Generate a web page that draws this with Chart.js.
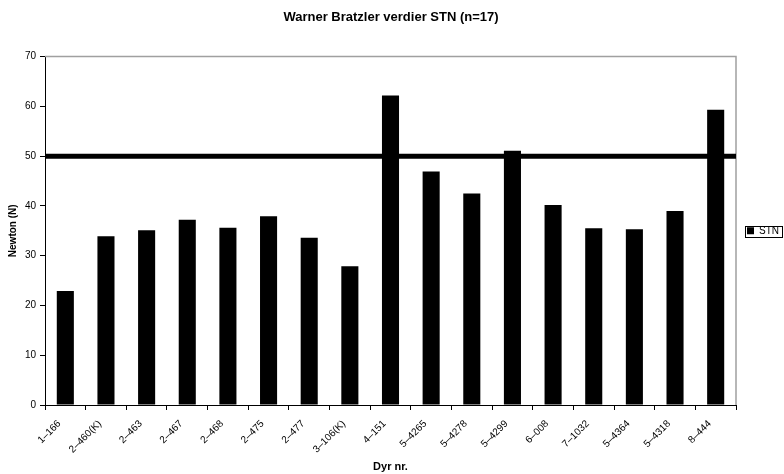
<!DOCTYPE html>
<html>
<head>
<meta charset="utf-8">
<title>Warner Bratzler verdier STN</title>
<script src="https://cdn.jsdelivr.net/npm/chart.js@4/dist/chart.umd.min.js"></script>
<style>
  html, body { margin: 0; padding: 0; background: #ffffff; }
  #wrap { width: 784px; height: 474px; }
</style>
</head>
<body>
<div id="wrap"><canvas id="c" width="784" height="474"></canvas></div>
<script>
// Animal IDs along the x axis
const animals = ['1–166', '2–460(K)', '2–463', '2–467', '2–468', '2–475', '2–477', '3–106(K)',
  '4–151', '5–4265', '5–4278', '5–4299', '6–008', '7–1032', '5–4364', '5–4318', '8–444'];
// Shear force (Newton) per animal
const stn = [22.9, 33.9, 35.1, 37.2, 35.6, 37.9, 33.6, 27.9,
  62.2, 46.9, 42.5, 51.1, 40.2, 35.5, 35.3, 39.0, 59.3];
// Reference limit drawn as a horizontal line
const limitValue = 50;
// y axis range and step
const yMin = 0, yMax = 70, yStep = 10;

const FONT = "'Liberation Sans', Arial, Helvetica, sans-serif";

// Plot-area frame (top/right in grey), the limit line and the legend frame
const decorations = {
  id: 'decorations',
  beforeDatasetsDraw(chart) {
    const { ctx, chartArea: a } = chart;
    ctx.save();
    ctx.strokeStyle = '#a0a0a0';
    ctx.lineWidth = 1.5;
    ctx.beginPath();
    ctx.moveTo(a.left, a.top);
    ctx.lineTo(a.right, a.top);
    ctx.lineTo(a.right, a.bottom);
    ctx.stroke();
    ctx.restore();
  },
  afterDatasetsDraw(chart) {
    const { ctx, chartArea: a, scales } = chart;
    const y = scales.y.getPixelForValue(limitValue);
    ctx.save();
    ctx.strokeStyle = '#000000';
    ctx.lineWidth = 5;
    ctx.beginPath();
    ctx.moveTo(a.left, y);
    ctx.lineTo(a.right, y);
    ctx.stroke();
    ctx.restore();
  },
  afterDraw(chart) {
    const lg = chart.legend;
    if (!lg || !lg.legendHitBoxes || !lg.legendHitBoxes.length) return;
    const hb = lg.legendHitBoxes[0];
    const { ctx } = chart;
    ctx.save();
    ctx.strokeStyle = '#000000';
    ctx.lineWidth = 1;
    const x0 = Math.round(hb.left - 2) + 0.5;
    const y0 = Math.round(hb.top) + 0.5;
    const w = Math.round(hb.width + 5);
    const h = Math.round(hb.height + 1);
    ctx.strokeRect(x0, y0, w, h);
    ctx.restore();
  }
};

new Chart(document.getElementById('c'), {
  type: 'bar',
  data: {
    labels: animals,
    datasets: [{
      label: 'STN',
      data: stn,
      backgroundColor: '#000000',
      borderWidth: 0,
      barPercentage: 0.42,
      categoryPercentage: 1.0
    }]
  },
  options: {
    responsive: false,
    animation: false,
    devicePixelRatio: 1,
    layout: { padding: { left: -7, top: 0, bottom: 0, right: -5 } },
    plugins: {
      title: {
        display: true,
        text: 'Warner Bratzler verdier STN (n=17)',
        color: '#000000',
        font: { family: FONT, size: 13, weight: 'bold', lineHeight: 1.2 },
        padding: { top: 10, bottom: 31 },
        align: 'center'
      },
      legend: {
        display: true,
        position: 'right',
        fullSize: false,
        labels: {
          color: '#000000',
          font: { family: FONT, size: 10 },
          boxWidth: 7,
          boxHeight: 7,
          padding: 11
        }
      },
      tooltip: { enabled: false }
    },
    scales: {
      x: {
        grid: { display: true, drawOnChartArea: false, offset: true, color: '#000000', tickLength: 5, tickWidth: 1 },
        border: { display: true, color: '#000000', width: 1 },
        ticks: {
          color: '#000000',
          font: { family: FONT, size: 10 },
          minRotation: 45,
          maxRotation: 45,
          autoSkip: false,
          padding: 8,
          labelOffset: -6
        },
        title: {
          display: true,
          text: 'Dyr nr.',
          color: '#000000',
          font: { family: FONT, size: 11, weight: 'bold', lineHeight: 1.2 },
          padding: { top: 0, bottom: 0 }
        },
        afterFit(scale) { scale.height = 69; }
      },
      y: {
        min: yMin,
        max: yMax,
        grid: { display: true, drawOnChartArea: false, color: '#000000', tickLength: 5, tickWidth: 1 },
        border: { display: true, color: '#000000', width: 1 },
        ticks: {
          stepSize: yStep,
          color: '#000000',
          font: { family: FONT, size: 10 },
          padding: 4
        },
        title: {
          display: true,
          text: 'Newton (N)',
          color: '#000000',
          font: { family: FONT, size: 10, weight: 'bold', lineHeight: 1.2 },
          padding: { top: 14, bottom: 0 }
        },
        afterFit(scale) { scale.width = 52; }
      }
    }
  },
  plugins: [decorations]
});
</script>
</body>
</html>
